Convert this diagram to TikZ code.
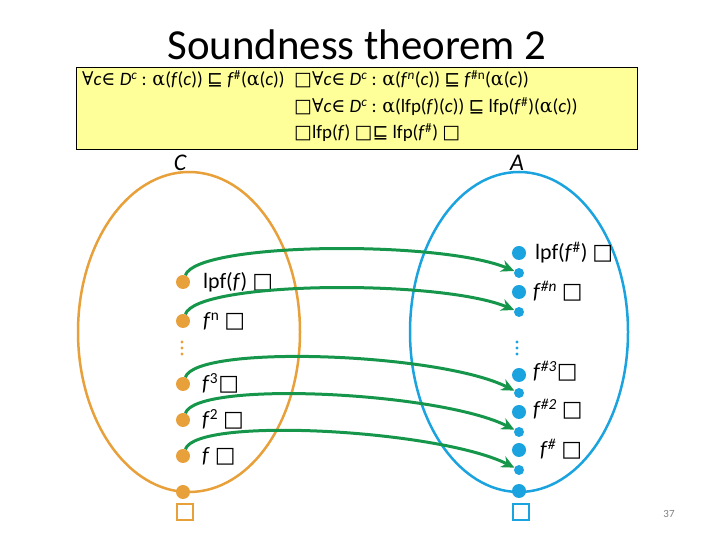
\documentclass[tikz,border=0pt]{standalone}
\usepackage{fontspec}
\setmainfont{Carlito}
\newfontfamily\symf{DejaVu Serif}
\newfontfamily\boxf{DejaVu Sans}
\newcommand\mysq{{\boxf □}}
\newcommand\mysle{{\boxf ⊑}}
\newcommand\myal{{\symf α}}
\newcommand\myfa{{\symf ∀}}
\newcommand\myin{{\symf ∈}}
\newcommand\iti[1]{\textit{#1}}
\definecolor{corange}{RGB}{232,160,58}
\definecolor{cblue}{RGB}{27,163,224}
\definecolor{cgreen}{RGB}{22,150,75}
\definecolor{cyellow}{RGB}{255,255,153}
\usetikzlibrary{arrows.meta}
\tikzset{
  odot/.style={circle,fill=corange,inner sep=0pt,minimum size=14bp},
  bdot/.style={circle,fill=cblue,inner sep=0pt,minimum size=14bp},
  bsdot/.style={circle,fill=cblue,inner sep=0pt,minimum size=10bp},
  lbl/.style={anchor=base west,inner sep=0pt,font=\fontsize{22}{26}\selectfont},
  boxtxt/.style={anchor=base west,inner sep=0pt,font=\fontsize{19}{22}\selectfont},
  garrow/.style={draw=cgreen,line width=3bp,-{Stealth[length=13bp,width=12bp]}},
}
\begin{document}
\begin{tikzpicture}[x=1bp,y=1bp]
\useasboundingbox (0,0) rectangle (720,540);
% title
\node[anchor=base,inner sep=0pt,font=\fontsize{43}{50}\selectfont] (title) at (357,480) {Soundness theorem 2};
% yellow box
\node[draw=black,fill=cyellow,line width=1bp,minimum width=560bp,minimum height=82bp,inner sep=0pt] (box) at (357,431) {};
\node[boxtxt] (t1) at (82,454) {\myfa\iti{c}\myin{} \iti{D}\textsuperscript{\iti{c}} : \myal(\iti{f}(\iti{c})) \mysle{} \iti{f}\textsuperscript{\#}(\myal(\iti{c}))};
\node[boxtxt] (t2) at (294,454) {\mysq\myfa\iti{c}\myin{} \iti{D}\textsuperscript{\iti{c}} : \myal(\iti{f}\textsuperscript{\iti{n}}(\iti{c})) \mysle{} \iti{f}\textsuperscript{\#n}(\myal(\iti{c}))};
\node[boxtxt] (t3) at (294,427) {\mysq\myfa\iti{c}\myin{} \iti{D}\textsuperscript{\iti{c}} : \myal(lfp(\iti{f})(\iti{c})) \mysle{} lfp(\iti{f}\textsuperscript{\#})(\myal(\iti{c}))};
\node[boxtxt] (t4) at (294,401) {\mysq lfp(\iti{f}) \mysq\mysle{} lfp(\iti{f}\textsuperscript{\#}) \mysq};
% set labels
\node[font=\fontsize{24}{28}\selectfont\itshape] (C) at (180,377) {C};
\node[font=\fontsize{24}{28}\selectfont\itshape] (A) at (517,377) {A};
% ellipses
\draw[corange,line width=2.5bp] (189,208) ellipse [x radius=111, y radius=160];
\draw[cblue,line width=2.5bp] (519,208) ellipse [x radius=109, y radius=160];
% orange dots
\node[odot] (o1) at (183,258) {};
\node[odot] (o2) at (183,219) {};
\node[odot] (o3) at (183,156) {};
\node[odot] (o4) at (183,120) {};
\node[odot] (o5) at (183,84) {};
\node[odot] (o6) at (183,48) {};
\foreach \yy in {198,192,186} \fill[corange] (182,\yy) circle (1.6);
\node[draw=corange,line width=2bp,minimum size=16bp,inner sep=0pt] (osq) at (185,28) {};
% orange labels
\node[lbl] (lo1) at (203,251) {lpf(\iti{f}) \mysq};
\node[lbl] (lo2) at (203,212) {\iti{f}\textsuperscript{n} \mysq};
\node[lbl] (lo3) at (202,149) {\iti{f}\textsuperscript{3}\mysq};
\node[lbl] (lo4) at (202,113) {\iti{f}\textsuperscript{2} \mysq};
\node[lbl] (lo5) at (202,77) {\iti{f} \mysq};
% blue dots
\node[bdot] (b1) at (519,287) {};
\node[bsdot] (b1s) at (519,267) {};
\node[bdot] (b2) at (519,248) {};
\node[bsdot] (b2s) at (519,228) {};
\node[bdot] (b3) at (519,165) {};
\node[bsdot] (b3s) at (519,147) {};
\node[bdot] (b4) at (519,128) {};
\node[bsdot] (b4s) at (519,108) {};
\node[bdot] (b5) at (519,90) {};
\node[bsdot] (b5s) at (519,70) {};
\node[bdot] (b6) at (519,49) {};
\foreach \yy in {198,192,186} \fill[cblue] (517,\yy) circle (1.6);
\node[draw=cblue,line width=2bp,minimum size=16bp,inner sep=0pt] (bsq) at (521,28) {};
% blue labels
\node[lbl] (lb1) at (535,280) {lpf(\iti{f}\textsuperscript{\#}) \mysq};
\node[lbl] (lb2) at (533,241) {\iti{f}\textsuperscript{\iti{\#n}} \mysq};
\node[lbl] (lb3) at (533,161) {\iti{f}\textsuperscript{\iti{\#3}}\mysq};
\node[lbl] (lb4) at (533,123) {\iti{f}\textsuperscript{\iti{\#2}} \mysq};
\node[lbl] (lb5) at (540,83) {\iti{f}\textsuperscript{\iti{\#}} \mysq};
% green arrows
\draw[garrow] (o1) .. controls +(14,40) and +(-79,33) .. (b1s);
\draw[garrow] (o2) .. controls +(14,40) and +(-79,33) .. (b2s);
\draw[garrow] (o3) .. controls +(14,40) and +(-79,40) .. (b3s);
\draw[garrow] (o4) .. controls +(14,40) and +(-79,40) .. (b4s);
\draw[garrow] (o5) .. controls +(14,40) and +(-79,40) .. (b5s);
% page number
\node[font=\fontsize{11}{13}\selectfont,text=gray] (pg) at (669,26) {37};
\end{tikzpicture}
\end{document}
